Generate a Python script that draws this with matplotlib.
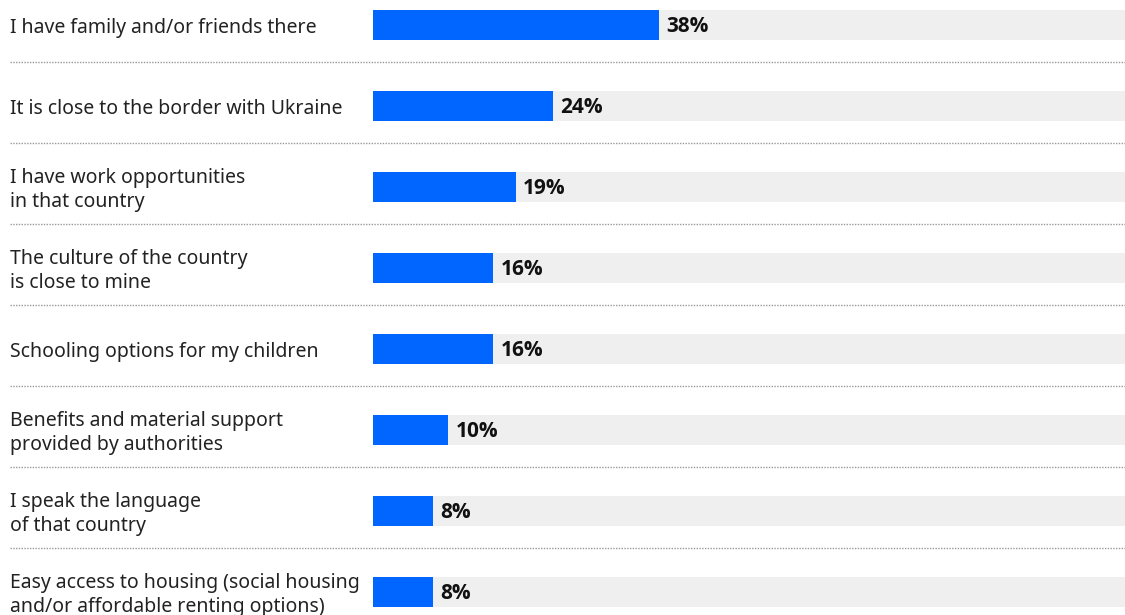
import matplotlib.pyplot as plt
import matplotlib.transforms as mtransforms

labels = [
    "I have family and/or friends there",
    "It is close to the border with Ukraine",
    "I have work opportunities\nin that country",
    "The culture of the country\nis close to mine",
    "Schooling options for my children",
    "Benefits and material support\nprovided by authorities",
    "I speak the language\nof that country",
    "Easy access to housing (social housing\nand/or affordable renting options)",
]
values = [38, 24, 19, 16, 16, 10, 8, 8]

blue = "#0066FF"
track = "#EFEFEF"
plt.rcParams['font.family'] = ['Noto Sans', 'DejaVu Sans']

fig = plt.figure(figsize=(11.25, 6.15), dpi=100)
ax = fig.add_axes([0, 0, 1, 1])

# x: 0% sits at 373px, 100% at the right edge
x0 = -100 * 373 / 752
ax.set_xlim(x0, 100)
ax.set_ylim((615 - 25) / 81, -25 / 81)
ax.axis("off")

rows = range(len(values))
h = 30 / 81
ax.barh(rows, [100] * len(values), height=h, color=track, left=0)
ax.barh(rows, values, height=h, color=blue)

lab_tr = mtransforms.blended_transform_factory(ax.transAxes, ax.transData)
for i, (lab, v) in enumerate(zip(labels, values)):
    ax.text(10 / 1125, i + 0.04, lab, transform=lab_tr, va="center", ha="left",
            fontsize=14, color="#222222", linespacing=1.25)
    ax.text(v + 0.95, i + 0.02, f"{v}%", va="center", ha="left", fontsize=15,
            fontweight="bold", color="#111111", family=["Open Sans", "DejaVu Sans"])
    if i < len(values) - 1:
        ax.plot([x0 + 10 / 1125 * (100 - x0), 100], [i + 0.46, i + 0.46],
                color="#999999", lw=1, ls=(0, (1, 1)))

fig.savefig("out.png", dpi=100)
